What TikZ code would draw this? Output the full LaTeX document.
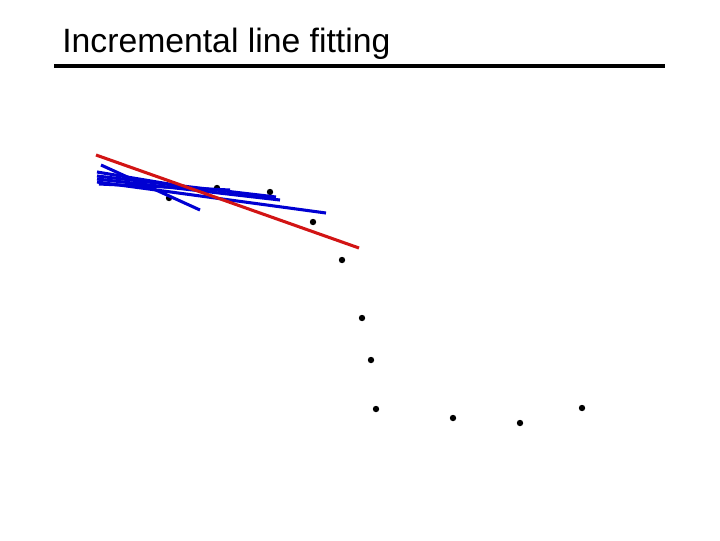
\documentclass[tikz,border=0pt]{standalone}
\usepackage{fontspec}
\setmainfont{Liberation Sans}
\begin{document}
\begin{tikzpicture}[x=0.75pt,y=-0.75pt,
  dot/.style={circle,fill=black,inner sep=0pt,minimum size=4.8pt},
  fitblue/.style={draw={rgb,255:red,0;green,0;blue,210},line width=2.3pt},
  fitred/.style={draw={rgb,255:red,210;green,20;blue,20},line width=2.3pt}]
\useasboundingbox (0,0) rectangle (720,540);
\node[anchor=base west,inner sep=0pt,font=\fontsize{25.3pt}{30pt}\selectfont] (title) at (62,52) {Incremental line fitting};
\coordinate (rl) at (54,66);
\coordinate (rr) at (665,66);
\draw[line width=3pt] (rl) -- (rr);
% points
\node[dot] (p1) at (169,198) {};
\node[dot] (p2) at (217,188) {};
\node[dot] (p3) at (270,192) {};
\node[dot] (p4) at (313,222) {};
\node[dot] (p5) at (342,260) {};
\node[dot] (p6) at (362,318) {};
\node[dot] (p7) at (371,360) {};
\node[dot] (p8) at (376,409) {};
\node[dot] (p9) at (453,418) {};
\node[dot] (p10) at (520,423) {};
\node[dot] (p11) at (582,408) {};
% blue incremental fits
\coordinate (a1) at (101,165); \coordinate (a2) at (200,210);
\coordinate (b1) at (97,172);  \coordinate (b2) at (205,190);
\coordinate (c1) at (97,176);  \coordinate (c2) at (276,197);
\coordinate (d1) at (97,179);  \coordinate (d2) at (280,200);
\coordinate (e1) at (97,182);  \coordinate (e2) at (326,213);
\coordinate (f1) at (99,184);  \coordinate (f2) at (230,190);
\draw[fitblue] (a1) -- (a2);
\draw[fitblue] (b1) -- (b2);
\draw[fitblue] (c1) -- (c2);
\draw[fitblue] (d1) -- (d2);
\draw[fitblue] (e1) -- (e2);
\draw[fitblue] (f1) -- (f2);
% red fit
\coordinate (r1) at (96,155); \coordinate (r2) at (359,248);
\draw[fitred] (r1) -- (r2);
\end{tikzpicture}
\end{document}
